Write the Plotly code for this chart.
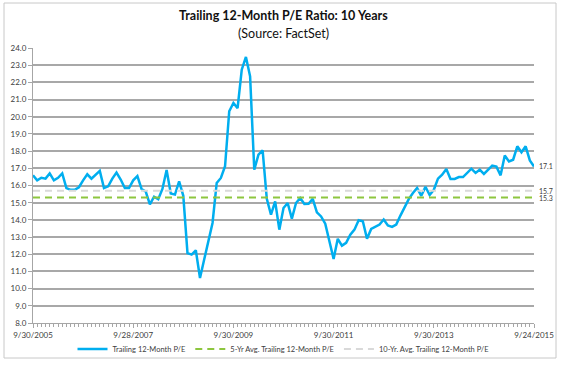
import plotly.graph_objects as go

# ---- data ----
months = list(range(121))  # monthly observations, 9/30/2005 .. 9/24/2015
tick_months = [0, 24, 48, 72, 96, 120]
tick_labels = ["9/30/2005", "9/28/2007", "9/30/2009", "9/30/2011", "9/30/2013", "9/24/2015"]

trailing_pe = [
    16.6, 16.3, 16.45, 16.4, 16.7, 16.3, 16.45, 16.7, 15.85, 15.75,
    15.75, 15.9, 16.3, 16.65, 16.4, 16.6, 16.85, 15.85, 15.95, 16.4,
    16.75, 16.35, 15.85, 15.85, 16.3, 16.55, 15.8, 15.65, 14.9, 15.35,
    15.2, 15.8, 16.9, 15.53, 15.47, 16.24, 15.4, 12.07, 11.98, 12.23,
    10.62, 11.69, 12.85, 13.82, 16.15, 16.44, 17.12, 20.32, 20.8, 20.5,
    22.74, 23.48, 22.35, 16.92, 17.8, 18.05, 15.22, 14.3, 15.08, 13.43,
    14.69, 14.98, 14.07, 14.98, 15.27, 14.92, 14.94, 15.22, 14.44, 14.2,
    13.78, 12.75, 11.73, 12.9, 12.5, 12.66, 13.14, 13.43, 13.98, 13.92,
    12.9, 13.47, 13.59, 13.73, 14.02, 13.67, 13.59, 13.73, 14.25, 14.75,
    15.21, 15.56, 15.86, 15.4, 15.93, 15.45, 15.75, 16.4, 16.63, 16.96,
    16.38, 16.38, 16.49, 16.49, 16.73, 16.98, 16.73, 16.92, 16.67, 16.92,
    17.15, 17.1, 16.59, 17.74, 17.4, 17.5, 18.28, 17.93, 18.28, 17.46,
    17.11,
]
avg_5yr = 15.3
avg_10yr = 15.7
series_names = ["Trailing 12-Month P/E", "5-Yr Avg. Trailing 12-Month P/E",
                "10-Yr. Avg. Trailing 12-Month P/E"]

# ---- figure ----
W, H = 562, 365
L, R, T, B = 33, 28, 48, 42
pw, ph = W - L - R, H - T - B

def px_x(px):
    return (px - L) / pw

def px_y(py):
    return (H - B - py) / ph

FONT = "Lato, 'Open Sans', sans-serif"
TXT = "#404040"

fig = go.Figure()
fig.add_trace(go.Scatter(x=months, y=trailing_pe, mode="lines", name=series_names[0],
                         line=dict(color="#00AEEF", width=2.5)))
fig.add_trace(go.Scatter(x=[months[0], months[-1]], y=[avg_5yr, avg_5yr], mode="lines",
                         name=series_names[1],
                         line=dict(color="#8DC63F", width=2, dash="7px,5px")))
fig.add_trace(go.Scatter(x=[months[0], months[-1]], y=[avg_10yr, avg_10yr], mode="lines",
                         name=series_names[2],
                         line=dict(color="#D9D9D9", width=2, dash="7px,5px")))

for val in [trailing_pe[-1], avg_10yr, avg_5yr]:
    fig.add_annotation(x=1, xref="paper", y=val, yref="y", text=f"{val:.1f}",
                       showarrow=False, xanchor="left", xshift=3,
                       font=dict(family=FONT, size=7, color=TXT))

fig.add_annotation(x=0.5, xref="paper", y=px_y(16), yref="paper",
                   text="<b>Trailing 12-Month P/E Ratio: 10 Years</b>", showarrow=False,
                   xanchor="center", yanchor="middle",
                   font=dict(family=FONT, size=12.5, color="#111111"))
fig.add_annotation(x=0.5, xref="paper", y=px_y(33), yref="paper",
                   text="(Source: FactSet)", showarrow=False,
                   xanchor="center", yanchor="middle",
                   font=dict(family=FONT, size=12.5, color="#111111"))

# chart-area border
fig.add_shape(type="rect", xref="paper", yref="paper",
              x0=px_x(4), x1=px_x(556), y0=px_y(358), y1=px_y(3),
              line=dict(color="#C8C8C8", width=1), layer="below")

fig.update_layout(
    width=W, height=H,
    margin=dict(l=L, r=R, t=T, b=B),
    paper_bgcolor="white", plot_bgcolor="white",
    font=dict(family=FONT, size=8, color=TXT),
    showlegend=True,
    legend=dict(orientation="h", x=0.5, xanchor="center",
                yref="container", y=(H - 349) / H, yanchor="middle",
                font=dict(family=FONT, size=7.5, color=TXT), itemwidth=30,
                bgcolor="rgba(0,0,0,0)"),
)
fig.update_xaxes(range=[0, 120], tickmode="array", tickvals=tick_months, ticktext=tick_labels,
                 showgrid=False, zeroline=False, showline=True, linecolor="#A6A6A6", linewidth=1,
                 ticks="outside", ticklen=4, tickcolor="#A6A6A6", automargin=False,
                 tickfont=dict(family=FONT, size=8, color=TXT),
                 minor=dict(tickmode="linear", tick0=0, dtick=1, ticks="outside", ticklen=3,
                            tickcolor="#A6A6A6", showgrid=False))
fig.update_yaxes(range=[8, 24], dtick=1, tick0=8, tickformat=".1f",
                 showgrid=True, gridcolor="#A8A8A8", gridwidth=1.5, zeroline=False,
                 showline=True, linecolor="#A6A6A6", linewidth=1, automargin=False,
                 ticks="outside", ticklen=4, tickcolor="#A6A6A6",
                 tickfont=dict(family=FONT, size=8, color=TXT))

fig.write_html("out.html", config={"displayModeBar": False},
               post_script="document.body.style.margin='0';document.body.style.overflow='hidden';")
